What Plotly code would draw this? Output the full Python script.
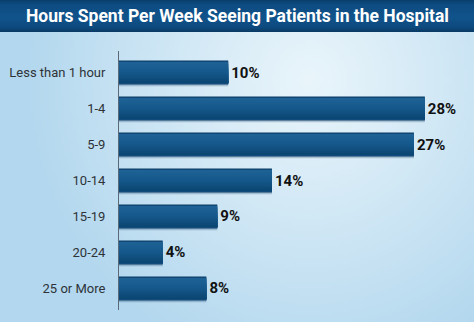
import base64
import struct
import zlib

import numpy as np
import plotly.graph_objects as go

# Survey data
categories = ["Less than 1 hour", "1-4", "5-9", "10-14", "15-19", "20-24", "25 or More"]
percent = [10, 28, 27, 14, 9, 4, 8]
value_labels = ["10%", "28%", "27%", "14%", "9%", "4%", "8%"]
title_text = "Hours Spent Per Week Seeing Patients in the Hospital"

W, H = 474, 322


def png_data_uri(rgb):
    """Encode an HxWx3 uint8 array as a PNG data URI."""
    h, w, _ = rgb.shape
    raw = b"".join(b"\x00" + rgb[r].tobytes() for r in range(h))

    def chunk(tag, data):
        c = struct.pack(">I", len(data)) + tag + data
        return c + struct.pack(">I", zlib.crc32(tag + data) & 0xFFFFFFFF)

    png = b"\x89PNG\r\n\x1a\n"
    png += chunk(b"IHDR", struct.pack(">IIBBBBB", w, h, 8, 2, 0, 0, 0))
    png += chunk(b"IDAT", zlib.compress(raw, 9))
    png += chunk(b"IEND", b"")
    return "data:image/png;base64," + base64.b64encode(png).decode()


def hex_rgb(h):
    h = h.lstrip("#")
    return np.array([int(h[i:i + 2], 16) for i in (0, 2, 4)], dtype=float)


# Soft light-blue backdrop, brightest towards upper right
bw, bh = 158, 108
yy, xx = np.mgrid[0:bh, 0:bw]
px = (xx + 0.5) * W / bw
py = (yy + 0.5) * H / bh
t = np.sqrt(((px - 310) / 290) ** 2 + ((py - 80) / 300) ** 2)
t = np.clip(t, 0, 1) ** 1.1
light, dark = hex_rgb("#e9f5fb"), hex_rgb("#b2d7ee")
bg = light[None, None, :] * (1 - t[..., None]) + dark[None, None, :] * t[..., None]
bg_uri = png_data_uri(np.clip(bg, 0, 255).astype(np.uint8))

# Title banner: vertical dark-blue gradient
stops = [(0.0, "#0a3f6d"), (0.15, "#0e4c82"), (0.55, "#11548c"), (0.85, "#0d4a7e"), (1.0, "#0a3a64")]
rows = 32
band = np.zeros((rows, 4, 3))
for r in range(rows):
    f = (r + 0.5) / rows
    for (a, ca), (b, cb) in zip(stops[:-1], stops[1:]):
        if a <= f <= b:
            u = (f - a) / (b - a)
            band[r, :, :] = hex_rgb(ca) * (1 - u) + hex_rgb(cb) * u
            break
title_uri = png_data_uri(np.clip(band, 0, 255).astype(np.uint8))

LABEL_FONT = "Roboto, Liberation Sans, sans-serif"

fig = go.Figure()

bar_w = 2 / 3
# Faint drop shadow under each bar
fig.add_trace(go.Bar(
    x=percent, y=categories, orientation="h",
    width=bar_w, offset=-bar_w / 2 + 0.05,
    marker=dict(color="rgba(20,60,100,0.25)", line=dict(width=0)),
    hoverinfo="skip", showlegend=False,
))

# Base bar carrying the value labels
fig.add_trace(go.Bar(
    x=percent, y=categories, orientation="h", width=bar_w,
    marker=dict(color="#0c3e69", line=dict(width=0)),
    text=value_labels, textposition="outside", constraintext="none",
    cliponaxis=False,
    textfont=dict(family=LABEL_FONT, size=15, color="#111111", weight="bold"),
    hoverinfo="skip", showlegend=False,
))

# Overlapping bands inside each bar give it a top-lit gradient;
# each band runs down to the bar's bottom so no seams show through.
n_bands = 10
edge = 0.035
inner = bar_w - 2 * edge
top_c, mid_c, bot_c = hex_rgb("#1f6397"), hex_rgb("#15588b"), hex_rgb("#0c4471")
for k in range(n_bands):
    f = (k + 0.5) / n_bands
    if f < 0.5:
        c = top_c * (1 - f / 0.5) + mid_c * (f / 0.5)
    else:
        c = mid_c * (1 - (f - 0.5) / 0.5) + bot_c * ((f - 0.5) / 0.5)
    start = -bar_w / 2 + edge + k * inner / n_bands
    fig.add_trace(go.Bar(
        x=percent, y=categories, orientation="h",
        width=bar_w / 2 - edge - start, offset=start,
        marker=dict(color="rgb(%d,%d,%d)" % tuple(c.astype(int)), line=dict(width=0)),
        hoverinfo="skip", showlegend=False,
    ))

fig.update_layout(
    width=W, height=H,
    margin=dict(l=119, r=0, t=51, b=12),
    barmode="overlay",
    paper_bgcolor="#d8ecf7",
    plot_bgcolor="rgba(0,0,0,0)",
    showlegend=False,
    images=[
        dict(source=bg_uri, xref="paper", yref="paper", x=-119 / 355, y=1 + 51 / 259,
             sizex=W / 355, sizey=H / 259, xanchor="left", yanchor="top",
             sizing="stretch", layer="below"),
        dict(source=title_uri, xref="paper", yref="paper", x=-119 / 355, y=1 + 51 / 259,
             sizex=W / 355, sizey=32 / 259, xanchor="left", yanchor="top",
             sizing="stretch", layer="below"),
    ],
    annotations=[dict(
        text="<b>" + title_text + "</b>", xref="paper", yref="paper",
        x=(237 - 119) / 355, y=1 + (51 - 16) / 259, xanchor="center", yanchor="middle",
        showarrow=False,
        font=dict(family="Roboto, Liberation Sans, sans-serif", size=17.5, color="#ffffff"),
    )],
    xaxis=dict(range=[0, 32.5], visible=False, fixedrange=True),
    yaxis=dict(
        type="category", categoryorder="array", categoryarray=categories,
        range=[6.6, -0.6],
        showline=True, linecolor="#5a6a78", linewidth=1,
        showgrid=False, zeroline=False, ticks="",
        ticklabelstandoff=10,
        tickfont=dict(family=LABEL_FONT, size=13, color="#2e3338"),
    ),
)

fig.write_html("out.html")
